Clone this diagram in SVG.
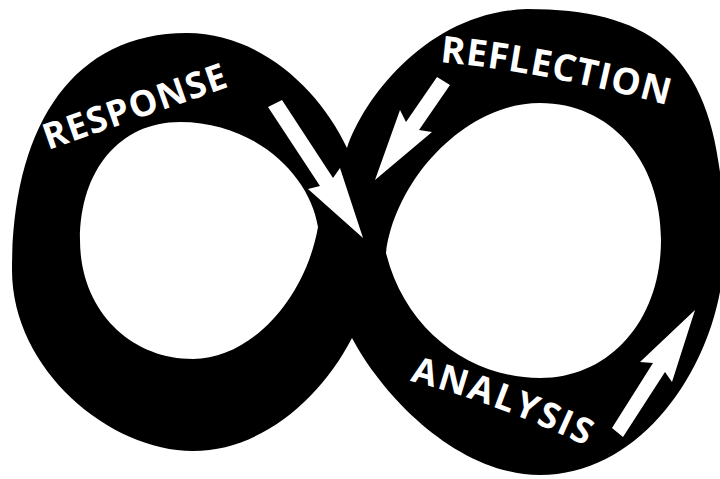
<svg xmlns="http://www.w3.org/2000/svg" width="720" height="479" viewBox="0 0 720 479">
  <defs>
    <style>
      .band { fill: #000; fill-rule: evenodd; }
      .arrow { fill: #fff; }
      .label { fill: #fff; font-family: "Open Sans", "Liberation Sans", sans-serif; font-weight: 700; }
    </style>
    <path id="p-response" d="M 48,150 L 237,84"/>
    <path id="p-reflection" d="M 440,62 Q 545,72 670,106"/>
    <path id="p-analysis" d="M 410,381 Q 495,402 592,449"/>
  </defs>
  <rect width="720" height="479" fill="#fff"/>
  <g id="infinity-loop">
    <path class="band" d="
      M 347,148
      C 365,95 430,12 527,9
      C 670,9 725,70 724,250
      C 724,350 650,475 540,475
      C 460,475 385,400 352,338
      C 320,400 260,451 193,451
      C 110,451 12,370 12,270
      C 12,130 70,33 187,33
      C 260,33 320,90 347,148 Z
      M 180,122
      C 120,122 80,170 80,240
      C 80,310 130,359 193,359
      C 250,359 305,300 318,227
      C 310,175 255,122 180,122 Z
      M 540,103
      C 610,103 661,160 661,240
      C 661,320 610,378 540,378
      C 470,378 405,330 386,253
      C 395,180 465,103 540,103 Z"/>
  </g>
  <g id="connectors">
    <polygon id="arrow-response" class="arrow" points="268,107 282,100 333,178 340,168 363,238 308,189 320,186"/>
    <polygon id="arrow-reflection" class="arrow" points="437,77 450,85 419,130 432,132 375,180 400,110 406,122"/>
    <polygon id="arrow-analysis" class="arrow" points="612,428 653,363 640,362 695,310 672,382 665,372 623,437"/>
  </g>
  <g id="label-response">
    <text class="label" font-size="36"><textPath href="#p-response" textLength="192" lengthAdjust="spacing">RESPONSE</textPath></text>
  </g>
  <g id="label-reflection">
    <text class="label" font-size="37"><textPath href="#p-reflection" textLength="232" lengthAdjust="spacing">REFLECTION</textPath></text>
  </g>
  <g id="label-analysis">
    <text class="label" font-size="36"><textPath href="#p-analysis" textLength="188" lengthAdjust="spacing">ANALYSIS</textPath></text>
  </g>
</svg>
